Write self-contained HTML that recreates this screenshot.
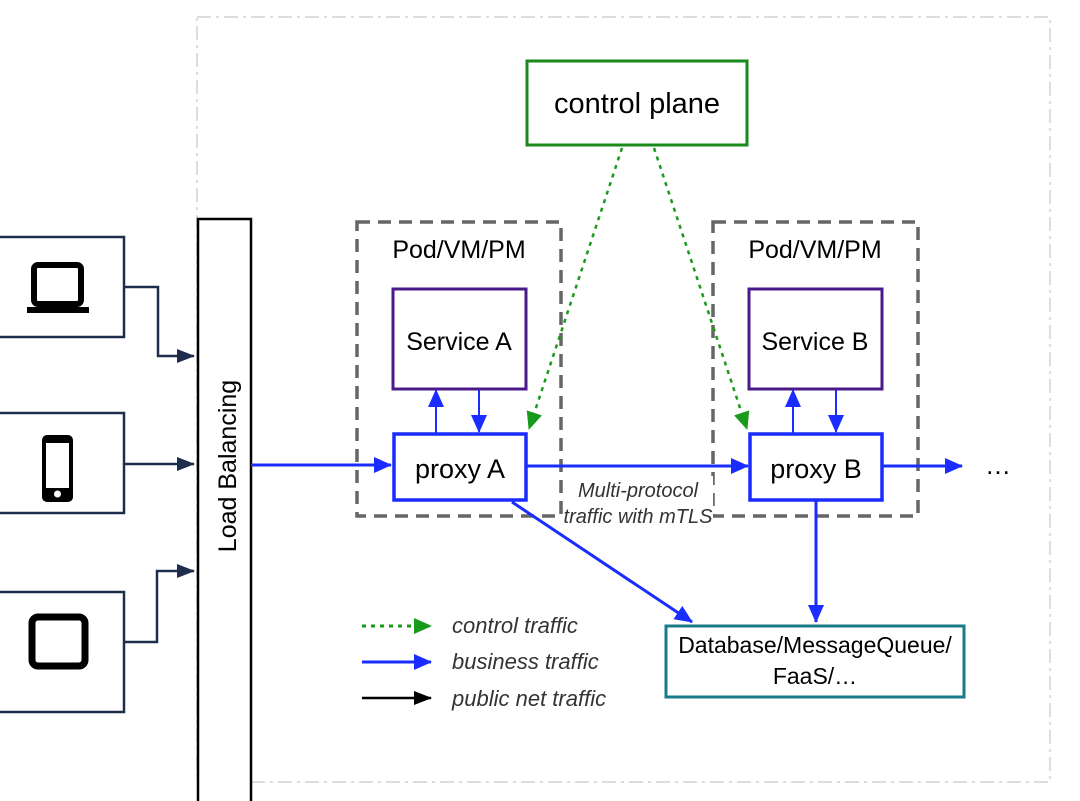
<!DOCTYPE html>
<html><head><meta charset="utf-8"><style>
html,body{margin:0;padding:0;background:#fff;width:1080px;height:801px;overflow:hidden}
text{font-family:"Liberation Sans",sans-serif}
</style></head><body>
<svg width="1080" height="801" viewBox="0 0 1080 801" xmlns="http://www.w3.org/2000/svg">
<defs>
<marker id="bk" markerWidth="18" markerHeight="14" refX="17" refY="7" orient="auto" markerUnits="userSpaceOnUse"><path d="M0,0 L18,7 L0,14z" fill="#1f2d4d"/></marker>
<marker id="blk" markerWidth="18" markerHeight="14" refX="17" refY="7" orient="auto" markerUnits="userSpaceOnUse"><path d="M0,0 L18,7 L0,14z" fill="#000"/></marker>
<marker id="b2" markerWidth="18" markerHeight="16" refX="17" refY="8" orient="auto" markerUnits="userSpaceOnUse"><path d="M0,0 L18,8 L0,16z" fill="#1a2cff"/></marker>
<marker id="g" markerWidth="18" markerHeight="16" refX="17" refY="8" orient="auto" markerUnits="userSpaceOnUse"><path d="M0,0 L18,8 L0,16z" fill="#1a9a1a"/></marker>
</defs>
<rect x="197" y="17" width="853" height="765" fill="none" stroke="#ddd" stroke-width="2" stroke-dasharray="14,5,3,5"/>
<g fill="none" stroke="#1f2d4d" stroke-width="2.5">
<rect x="-5" y="237" width="129" height="100"/>
<rect x="-5" y="413" width="129" height="100"/>
<rect x="-5" y="592" width="129" height="120"/>
</g>
<rect x="34" y="265" width="47" height="39" rx="4" fill="none" stroke="#000" stroke-width="6"/>
<rect x="27" y="307" width="62" height="6" fill="#000"/>
<rect x="42" y="435" width="31" height="67" rx="5" fill="#000"/><rect x="46" y="443" width="23" height="45" fill="#fff"/><circle cx="57.5" cy="494" r="3.5" fill="#fff"/>
<rect x="32" y="617" width="53" height="49" rx="6" fill="none" stroke="#000" stroke-width="7"/>
<g fill="none" stroke="#1f2d4d" stroke-width="2.5">
<polyline points="124,287 158,287 158,356 194,356" marker-end="url(#bk)"/>
<line x1="124" y1="464" x2="194" y2="464" marker-end="url(#bk)"/>
<polyline points="124,642 157,642 157,571 194,571" marker-end="url(#bk)"/>
</g>
<rect x="198" y="219" width="53" height="590" fill="#fff" stroke="#000" stroke-width="2.5"/>
<text transform="translate(236,466) rotate(-90)" font-size="25" text-anchor="middle" fill="#000">Load Balancing</text>
<rect x="527" y="61" width="220" height="84" fill="#fff" stroke="#1a8a1a" stroke-width="3"/>
<text x="637" y="113" font-size="29" text-anchor="middle">control plane</text>
<rect x="357" y="222" width="204" height="294" fill="none" stroke="#666" stroke-width="3.5" stroke-dasharray="13,8"/>
<rect x="713" y="222" width="205" height="294" fill="none" stroke="#666" stroke-width="3.5" stroke-dasharray="13,8"/>
<text x="459" y="258" font-size="25" text-anchor="middle">Pod/VM/PM</text>
<text x="815" y="258" font-size="25" text-anchor="middle">Pod/VM/PM</text>
<rect x="393" y="289" width="133" height="100" fill="#fff" stroke="#4a1a8a" stroke-width="3"/>
<rect x="749" y="289" width="133" height="100" fill="#fff" stroke="#4a1a8a" stroke-width="3"/>
<text x="459" y="350" font-size="25" text-anchor="middle">Service A</text>
<text x="815" y="350" font-size="25" text-anchor="middle">Service B</text>
<rect x="394" y="434" width="132" height="66" fill="#fff" stroke="#1a2cff" stroke-width="3.5"/>
<rect x="750" y="434" width="132" height="66" fill="#fff" stroke="#1a2cff" stroke-width="3.5"/>
<text x="460" y="478" font-size="27" text-anchor="middle">proxy A</text>
<text x="816" y="478" font-size="27" text-anchor="middle">proxy B</text>
<rect x="565" y="476" width="148" height="54" fill="#fff"/>
<text x="638" y="497" font-size="20" font-style="italic" text-anchor="middle" fill="#333">Multi-protocol</text>
<text x="638" y="523" font-size="20" font-style="italic" text-anchor="middle" fill="#333">traffic with mTLS</text>
<g stroke="#1a2cff" stroke-width="3" fill="none">
<line x1="251" y1="465" x2="391" y2="465" marker-end="url(#b2)"/>
<line x1="526" y1="466" x2="748" y2="466" marker-end="url(#b2)"/>
<line x1="882" y1="466" x2="962" y2="466" marker-end="url(#b2)"/>
<line x1="512" y1="502" x2="692" y2="622" marker-end="url(#b2)"/>
<line x1="816" y1="500" x2="816" y2="622" marker-end="url(#b2)"/>
<line x1="436" y1="434" x2="436" y2="390" marker-end="url(#b2)" stroke-width="2"/>
<line x1="479" y1="390" x2="479" y2="432" marker-end="url(#b2)" stroke-width="2"/>
<line x1="793" y1="434" x2="793" y2="390" marker-end="url(#b2)" stroke-width="2"/>
<line x1="836" y1="390" x2="836" y2="432" marker-end="url(#b2)" stroke-width="2"/>
</g>
<text x="998" y="474" font-size="26" text-anchor="middle">…</text>
<g stroke="#1a9a1a" stroke-width="2.5" fill="none" stroke-dasharray="4,5">
<line x1="622" y1="148" x2="529" y2="429" marker-end="url(#g)"/>
<line x1="654" y1="148" x2="747" y2="429" marker-end="url(#g)"/>
</g>
<rect x="666" y="626" width="298" height="71" fill="#fff" stroke="#1a7a8a" stroke-width="3"/>
<text x="815" y="653" font-size="23" text-anchor="middle">Database/MessageQueue/</text>
<text x="815" y="684" font-size="23" text-anchor="middle">FaaS/…</text>
<line x1="362" y1="626" x2="431" y2="626" stroke="#1a9a1a" stroke-width="3" stroke-dasharray="4,5" marker-end="url(#g)"/>
<line x1="362" y1="662" x2="431" y2="662" stroke="#1a2cff" stroke-width="3" marker-end="url(#b2)"/>
<line x1="362" y1="698" x2="431" y2="698" stroke="#000" stroke-width="2.5" marker-end="url(#blk)"/>
<g font-size="22" font-style="italic" fill="#333">
<text x="452" y="633">control traffic</text>
<text x="452" y="669">business traffic</text>
<text x="452" y="706">public net traffic</text>
</g>
</svg>
</body></html>
